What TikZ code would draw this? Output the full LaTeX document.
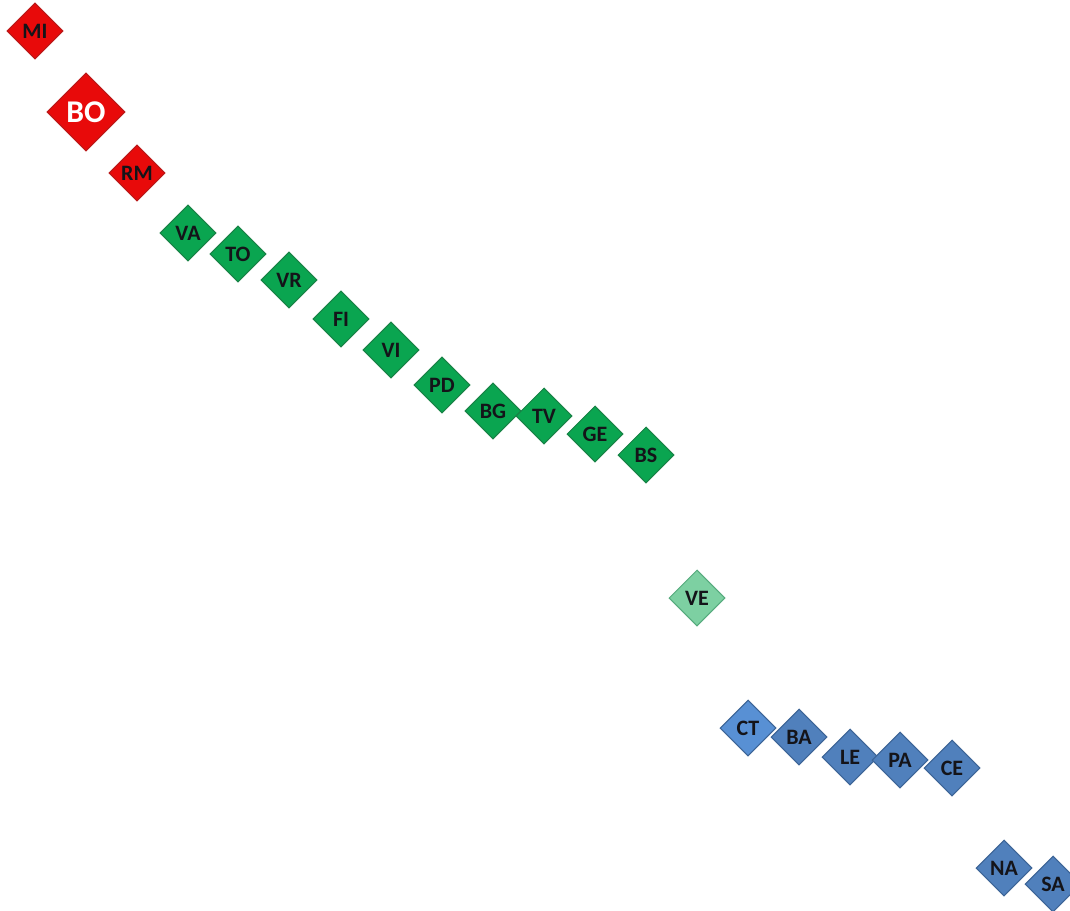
\documentclass[tikz,border=0pt]{standalone}
\usepackage{fontspec}
\setmainfont{Carlito}
\usepackage{xcolor}
\usepackage{tikz}
\usetikzlibrary{shapes.geometric, positioning}
\definecolor{nordred}{RGB}{232,10,10}
\definecolor{nordline}{RGB}{185,25,25}
\definecolor{midgreen}{RGB}{10,165,80}
\definecolor{midline}{RGB}{25,130,70}
\definecolor{palegreen}{RGB}{125,208,162}
\definecolor{paleline}{RGB}{85,170,125}
\definecolor{sudblue}{RGB}{80,128,188}
\definecolor{sudline}{RGB}{60,100,150}
\definecolor{lightblue}{RGB}{88,144,212}
\definecolor{txtdark}{RGB}{20,20,25}
\tikzset{
  city/.style={diamond, aspect=1, minimum width=1.12cm, minimum height=1.12cm,
    inner sep=0pt, font=\fontsize{12.5}{14}\selectfont\bfseries,
    text=txtdark, line width=0.6pt},
  redcity/.style={city, draw=nordline, fill=nordred},
  greencity/.style={city, draw=midline, fill=midgreen},
  bluecity/.style={city, draw=sudline, fill=sudblue},
  bigcity/.style={redcity, minimum width=1.56cm, minimum height=1.56cm,
    font=\fontsize{18}{20}\selectfont\bfseries, text=white}
}
\begin{document}
\begin{tikzpicture}
  \useasboundingbox (0,0) rectangle (21.4,-18.2);
  \clip (0,0) rectangle (21.4,-18.2);

  % North (red)
  \node[redcity] (mi) at (0.70,-0.62) {MI};
  \node[bigcity] (bo) at (1.72,-2.24) {BO};
  \node[redcity] (rm) at (2.74,-3.46) {RM};

  % Centre-north (green)
  \node[greencity] (va) at (3.76,-4.66) {VA};
  \node[greencity] (to) at (4.76,-5.08) {TO};
  \node[greencity] (vr) at (5.78,-5.60) {VR};
  \node[greencity] (fi) at (6.82,-6.38) {FI};
  \node[greencity] (vi) at (7.82,-7.00) {VI};
  \node[greencity] (pd) at (8.84,-7.70) {PD};
  \node[greencity] (bg) at (9.86,-8.22) {BG};
  \node[greencity] (tv) at (10.88,-8.32) {TV};
  \node[greencity] (ge) at (11.90,-8.68) {GE};
  \node[greencity] (bs) at (12.92,-9.10) {BS};

  % Middle
  \node[city, draw=paleline, fill=palegreen] (ve) at (13.94,-11.96) {VE};

  % South (blue)
  \node[bluecity, fill=lightblue] (ct) at (14.96,-14.56) {CT};
  \node[bluecity] (ba) at (15.98,-14.74) {BA};
  \node[bluecity] (le) at (17.00,-15.14) {LE};
  \node[bluecity] (pa) at (18.00,-15.20) {PA};
  \node[bluecity] (ce) at (19.04,-15.36) {CE};
  \node[bluecity] (na) at (20.08,-17.36) {NA};
  \node[bluecity] (sa) at (21.06,-17.68) {SA};
\end{tikzpicture}
\end{document}
